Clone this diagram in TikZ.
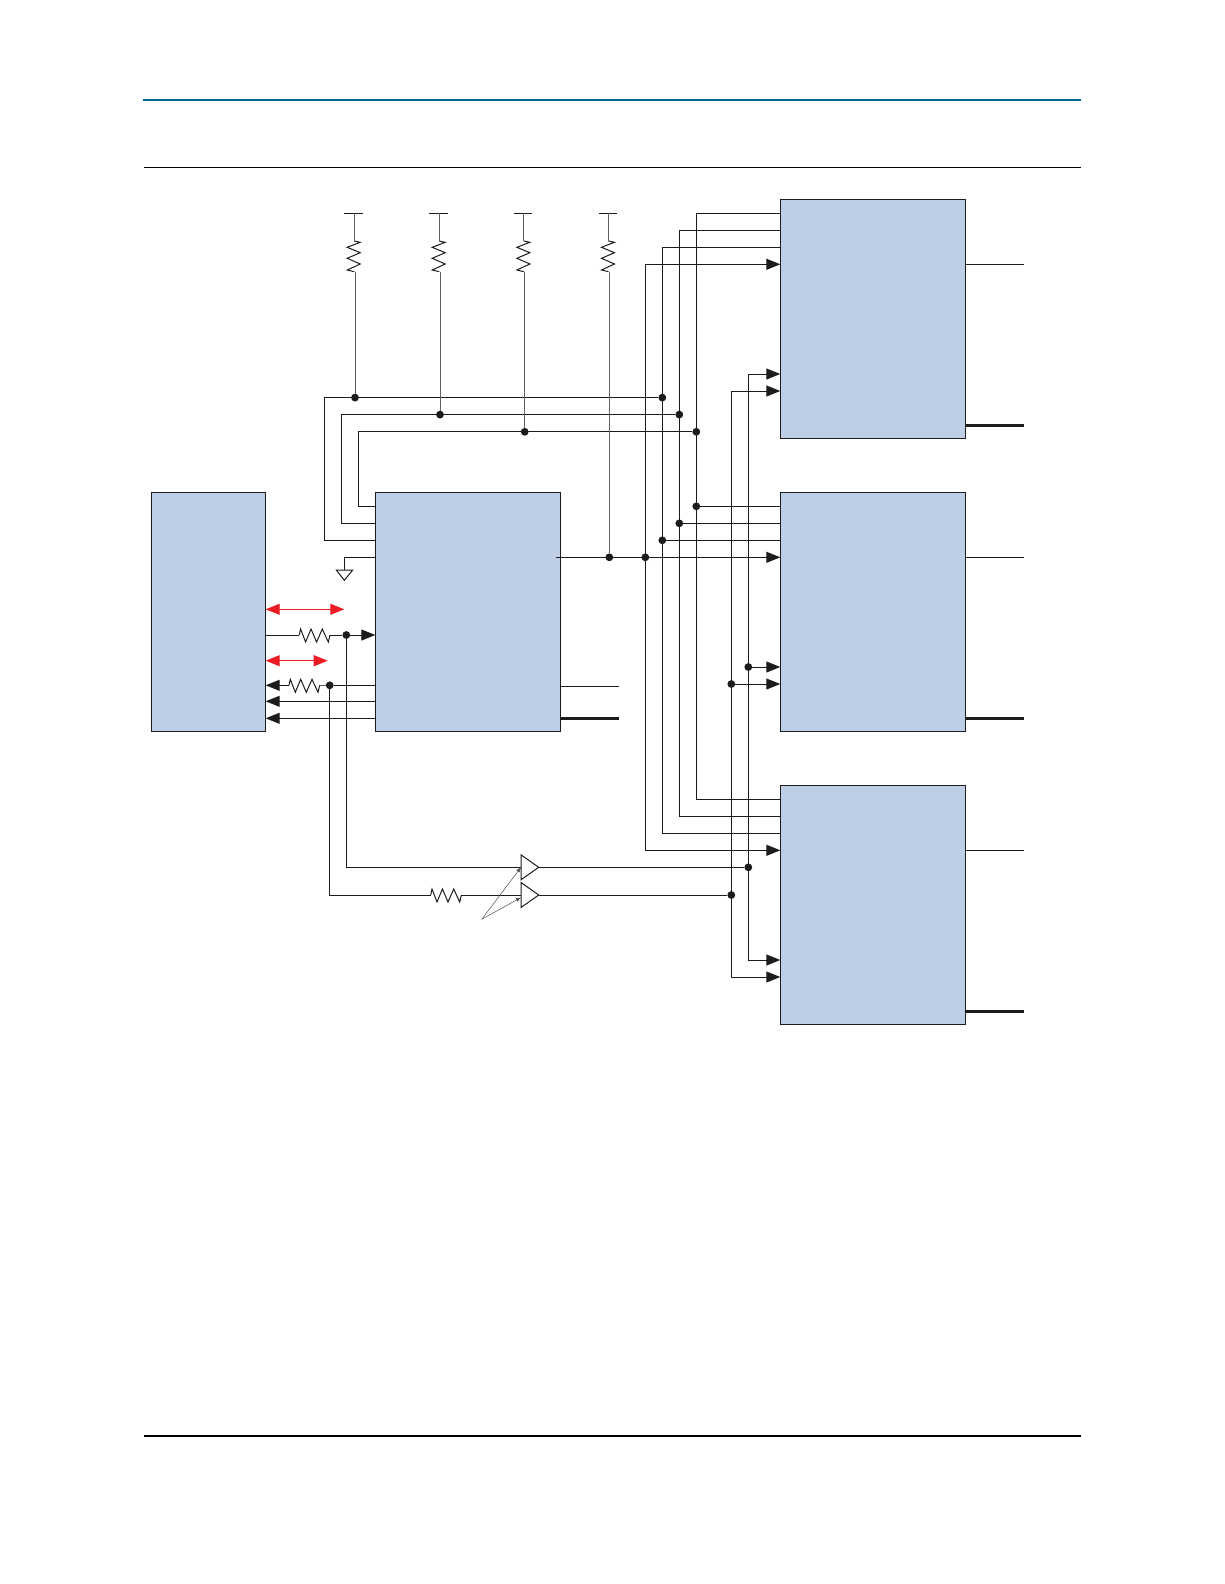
\documentclass[tikz,border=0pt]{standalone}
\usetikzlibrary{arrows.meta,calc,shapes.geometric}
\definecolor{boxblue}{RGB}{189,206,229}
\definecolor{wireblack}{RGB}{28,28,30}
\definecolor{ruleblue}{RGB}{0,104,136}
\definecolor{arrowred}{RGB}{237,28,36}
\tikzset{
    wire/.style={draw=wireblack, line width=1pt},
    pullwire/.style={draw=black!62, line width=1pt},
    buswide/.style={draw=wireblack, line width=2.6pt},
    tri/.style={-{Triangle[length=14pt,width=11pt]}},
    tritri/.style={{Triangle[length=14pt,width=11pt]}-{Triangle[length=14pt,width=11pt]}},
    redarrow/.style={draw=arrowred, fill=arrowred, line width=1pt, tritri},
    blockbox/.style={draw=wireblack, fill=boxblue, line width=1pt, inner sep=0pt, outer sep=0pt, minimum height=239pt},
    jdot/.style={circle, fill=wireblack, inner sep=0pt, outer sep=0pt, minimum size=7.8pt},
    bufbox/.style={draw=wireblack, fill=white, line width=1pt, isosceles triangle, isosceles triangle stretches, inner sep=0pt, outer sep=0pt, minimum width=25pt, minimum height=17.7pt, anchor=lower side},
    pics/resbar/.style={code={
        \coordinate (-in) at (0,0);
        \coordinate (-out) at (30.7,0);
        \draw[wire] (-in) -- (1.3,-6) -- (6.3,7) -- (11.7,-6) -- (17.3,7) -- (23,-6) -- (29,7) -- (-out);
    }},
}
\begin{document}
\begin{tikzpicture}[x=1pt, y=-1pt]
    \useasboundingbox (0,0) rectangle (1224,1584);
    \draw[draw=ruleblue, line width=2pt] (143,100) -- (1081,100);
    \draw[draw=black, line width=1.2pt] (144,167.2) -- (1081,167.2);
    \draw[draw=black, line width=1.2pt] (144,1436) -- (1081,1436);

    \node[blockbox, minimum width=114.2pt] (fpgabox) at (208.6,611.8) {};
    \node[blockbox, minimum width=185pt] (regbox) at (467.8,611.8) {};
    \foreach \pin/\dy in {1/14,2/31,3/48,4/65} {
        \coordinate (reg-\pin) at ([yshift=-\dy pt]regbox.north west);
    }
    \foreach \chip/\cy in {chipa/318.8,chipb/611.8,chipc/904.8} {
        \node[blockbox, minimum width=185.4pt] (\chip) at (873,\cy) {};
        \foreach \pin/\dy in {1/14,2/31,3/48,4/65,5/174.7,6/191.7} {
            \coordinate (\chip-\pin) at ([yshift=-\dy pt]\chip.north west);
        }
        \coordinate (\chip-thin) at ([yshift=-65pt]\chip.north east);
        \coordinate (\chip-thick) at ([yshift=-226pt]\chip.north east);
        \draw[wire] (\chip-thin) -- ++(58.3,0);
        \draw[buswide] (\chip-thick) -- ++(58.3,0);
    }

    \coordinate (railp) at (645.3,0);
    \coordinate (railq) at (662.3,0);
    \coordinate (railr) at (679.3,0);
    \coordinate (rails) at (696.3,0);
    \coordinate (railt) at (731.3,0);
    \coordinate (railu) at (748.3,0);

    \draw[wire] (chipa-1) -| (rails |- chipc-1) -- (chipc-1);
    \draw[wire] (chipa-2) -| (railr |- chipc-2) -- (chipc-2);
    \draw[wire] (chipa-3) -| (railq |- chipc-3) -- (chipc-3);
    \draw[wire, tritri] (chipa-4) -| (railp |- chipc-4) -- (chipc-4);
    \draw[wire, tritri] (chipa-5) -| (railu |- chipc-5) -- (chipc-5);
    \draw[wire, tritri] (chipa-6) -| (railt |- chipc-6) -- (chipc-6);

    \node[jdot] (busenda) at (railq |- 0,397.6) {};
    \node[jdot] (busendb) at (railr |- 0,414.6) {};
    \node[jdot] (busendc) at (rails |- 0,431.8) {};
    \coordinate (buscora) at (324.3,397.6);
    \coordinate (buscorb) at (341.3,414.6);
    \coordinate (buscorc) at (358.3,431.8);
    \draw[wire] (reg-3) -| (buscora) -- (busenda);
    \draw[wire] (reg-2) -| (buscorb) -- (busendb);
    \draw[wire] (reg-1) -| (buscorc) -- (busendc);

    \foreach \name/\xx/\yy in {a/355/397.6,b/440/414.6,c/524.7/431.8,d/609.3/557.3} {
        \coordinate (vcc\name) at (\xx-0.8,213.3);
        \pic[rotate=-90] (pull\name) at (\xx-0.8,241) {resbar};
        \node[jdot] (pulldot\name) at (\xx,\yy) {};
        \draw[wire] ([xshift=-10pt]vcc\name) -- ([xshift=8.5pt]vcc\name);
        \draw[pullwire] (vcc\name) -- (pull\name-in);
        \draw[pullwire] (pulldot\name |- pull\name-out) -- (pulldot\name);
    }

    \coordinate (regout) at ([xshift=-4pt]regbox.north east |- reg-4);
    \draw[wire, tri] (regout) -- (chipb-4);
    \node[jdot] (dotclk) at (railp |- chipb-4) {};
    \foreach \pin/\rail in {1/rails,2/railr,3/railq} {
        \node[jdot] (dotb\pin) at (\rail |- chipb-\pin) {};
        \draw[wire] (dotb\pin) -- (chipb-\pin);
    }
    \foreach \pin/\rail in {5/railu,6/railt} {
        \node[jdot] (dotb\pin) at (\rail |- chipb-\pin) {};
        \draw[wire, tri] (dotb\pin) -- (chipb-\pin);
    }

    \coordinate (gndcor) at (344.3,557.3);
    \coordinate (gndtop) at (344.3,570);
    \draw[wire] (reg-4) -- (gndcor) -- (gndtop);
    \draw[wire] (336.3,570) -- (352.7,570) -- (344.3,580.3) -- cycle;

    \coordinate (redaa) at (fpgabox.east |- 0,609.3);
    \coordinate (redab) at (344.3,609.3);
    \coordinate (redba) at (fpgabox.east |- 0,660.7);
    \coordinate (redbb) at (327.7,660.7);
    \draw[redarrow] (redaa) -- (redab);
    \draw[redarrow] (redba) -- (redbb);

    \coordinate (fpgaout) at (fpgabox.east |- 0,635);
    \coordinate (regin) at (regbox.west |- 0,635);
    \pic (resin) at (299.3,635) {resbar};
    \node[jdot] (dotin) at (346.3,635) {};
    \draw[wire] (fpgaout) -- (resin-in);
    \draw[wire] (resin-out) -- (dotin);
    \draw[wire, tri] (dotin) -- (regin);

    \coordinate (fpgaback) at (fpgabox.east |- 0,685.3);
    \coordinate (regback) at (regbox.west |- 0,685.3);
    \pic (resback) at (289,685.3) {resbar};
    \node[jdot] (dotback) at (329.7,685.3) {};
    \draw[wire, tri] (resback-in) -- (fpgaback);
    \draw[pullwire] (resback-out) -- (dotback);
    \draw[wire] (regback) -- (dotback);
    \draw[wire, tri] (regbox.west |- 0,701.3) -- (fpgabox.east |- 0,701.3);
    \draw[wire, tri] (regbox.west |- 0,718.3) -- (fpgabox.east |- 0,718.3);

    \coordinate (regthin) at (regbox.east |- 0,686.3);
    \coordinate (regthick) at (regbox.east |- 0,718.3);
    \draw[wire] (regthin) -- ++(58.7,0);
    \draw[buswide] (regthick) -- ++(58.7,0);

    \node[bufbox] (bufa) at (521,867.3) {};
    \node[bufbox] (bufb) at (521,895) {};
    \node[jdot] (dotbufa) at (railu |- bufa) {};
    \node[jdot] (dotbufb) at (railt |- bufb) {};
    \draw[wire] (bufa.apex) -- (dotbufa);
    \draw[wire] (bufb.apex) -- (dotbufb);
    \draw[wire] (dotin) |- (bufa.lower side);
    \pic (resbuf) at (430.7,895) {resbar};
    \draw[wire] (dotback) |- (resbuf-in);
    \draw[wire] (resbuf-out) -- (bufb.lower side);

    \coordinate (calltip) at (481.7,919.3);
    \draw[draw=black!70, line width=0.5pt, -{Latex[length=5pt,width=4pt]}] (calltip) -- (bufa.lower side);
    \draw[draw=black!70, line width=0.5pt, -{Latex[length=5pt,width=4pt]}] (calltip) -- ([yshift=-2.5pt]bufb.lower side);
\end{tikzpicture}
\end{document}
